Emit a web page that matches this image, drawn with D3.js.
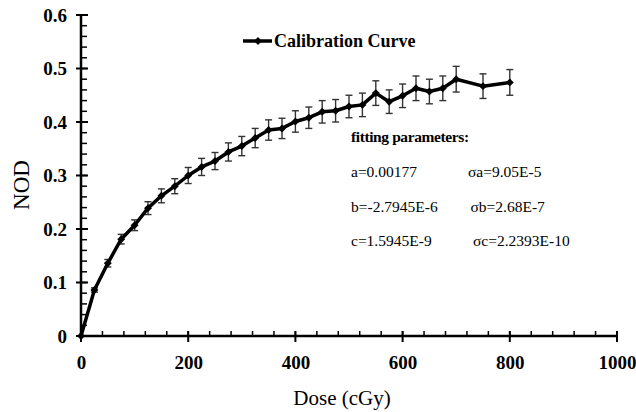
<!DOCTYPE html>
<html>
<head>
<meta charset="utf-8">
<script src="https://cdn.jsdelivr.net/npm/d3@7"></script>
<style>
body { margin: 0; background: #fff; }
svg { display: block; }
text { font-family: "Liberation Serif", "Times New Roman", serif; fill: #000; }
</style>
</head>
<body>
<svg id="chart" width="636" height="412"></svg>
<script>
// calibration data
var doses = [0, 25, 50, 75, 100, 125, 150, 175, 200, 225, 250, 275, 300, 325, 350, 375, 400,
	425, 450, 475, 500, 525, 550, 575, 600, 625, 650, 675, 700, 750, 800];
var nod = [0, 0.086, 0.136, 0.181, 0.207, 0.239, 0.262, 0.280, 0.300, 0.316, 0.327, 0.344, 0.355,
	0.370, 0.385, 0.388, 0.401, 0.408, 0.419, 0.421, 0.429, 0.432, 0.454, 0.438, 0.449, 0.463,
	0.457, 0.463, 0.480, 0.467, 0.474];
var nodErr = [0, 0.004, 0.007, 0.009, 0.010, 0.012, 0.013, 0.014, 0.015, 0.016, 0.016, 0.017, 0.018,
	0.018, 0.019, 0.019, 0.020, 0.020, 0.021, 0.021, 0.021, 0.022, 0.023, 0.022, 0.022, 0.023,
	0.023, 0.023, 0.024, 0.023, 0.024];

var xTicks = [0, 200, 400, 600, 800, 1000];
var xMinor = d3.range(0, 1001, 40);
var yTicks = [0, 0.1, 0.2, 0.3, 0.4, 0.5, 0.6];
var yMinor = d3.range(0, 0.6001, 0.02);

var seriesName = "Calibration Curve";
var paramTitle = "fitting parameters:";
var paramLeft = ["a=0.00177", "b=-2.7945E-6", "c=1.5945E-9"];
var paramRight = ["\u03C3a=9.05E-5", "\u03C3b=2.68E-7", "\u03C3c=2.2393E-10"];

var svg = d3.select("#chart");

var x = d3.scaleLinear().domain([0, 1000]).range([81, 617]);
var y = d3.scaleLinear().domain([0, 0.6]).range([336, 15]);

var data = doses.map((d, i) => ({ dose: d, v: nod[i], e: nodErr[i] }));

// axes (labels only, ticks drawn by hand below)
var xAxis = svg.append("g")
	.attr("transform", "translate(0,336)")
	.call(d3.axisBottom(x).tickValues(xTicks).tickSize(0).tickPadding(20).tickFormat(d3.format("d")));
xAxis.select(".domain").remove();
xAxis.attr("font-family", null).attr("font-size", null);
xAxis.selectAll("text")
	.style("font-family", "Liberation Serif").style("font-size", "19px").style("font-weight", "bold");

var yAxis = svg.append("g")
	.attr("transform", "translate(81,0)")
	.call(d3.axisLeft(y).tickValues(yTicks).tickSize(0).tickPadding(14).tickFormat(d => d === 0 ? "0" : d3.format(".1f")(d)));
yAxis.select(".domain").remove();
yAxis.attr("font-family", null).attr("font-size", null);
yAxis.selectAll("text")
	.style("font-family", "Liberation Serif").style("font-size", "19px").style("font-weight", "bold");

var ax = svg.append("g").attr("stroke", "#000");

// minor ticks
ax.selectAll(".xm").data(xMinor).enter().append("line")
	.attr("x1", d => x(d)).attr("x2", d => x(d))
	.attr("y1", 336).attr("y2", 331).attr("stroke-width", 1.5);
ax.selectAll(".ym").data(yMinor).enter().append("line")
	.attr("y1", d => y(d)).attr("y2", d => y(d))
	.attr("x1", 81).attr("x2", 87).attr("stroke-width", 1.5);

// major ticks cross the axis
ax.selectAll(".xM").data(xTicks).enter().append("line")
	.attr("x1", d => x(d)).attr("x2", d => x(d))
	.attr("y1", 331).attr("y2", 342).attr("stroke-width", 2);
ax.selectAll(".yM").data(yTicks).enter().append("line")
	.attr("y1", d => y(d)).attr("y2", d => y(d))
	.attr("x1", 76).attr("x2", 88).attr("stroke-width", 2);

// axis lines
ax.append("line").attr("x1", x(0)).attr("x2", x(1000)).attr("y1", 336).attr("y2", 336).attr("stroke-width", 2.5);
ax.append("line").attr("x1", 81).attr("x2", 81).attr("y1", y(0.6)).attr("y2", y(0)).attr("stroke-width", 2.5);

// error bars
var eb = svg.append("g").attr("stroke", "#333").attr("stroke-width", 1.4);
eb.selectAll(".ev").data(data.filter(d => d.e > 0)).enter().append("line")
	.attr("x1", d => x(d.dose)).attr("x2", d => x(d.dose))
	.attr("y1", d => y(d.v - d.e)).attr("y2", d => y(d.v + d.e));
eb.selectAll(".ct").data(data.filter(d => d.e > 0)).enter().append("line")
	.attr("x1", d => x(d.dose) - 3.5).attr("x2", d => x(d.dose) + 3.5)
	.attr("y1", d => y(d.v + d.e)).attr("y2", d => y(d.v + d.e));
eb.selectAll(".cb").data(data.filter(d => d.e > 0)).enter().append("line")
	.attr("x1", d => x(d.dose) - 3.5).attr("x2", d => x(d.dose) + 3.5)
	.attr("y1", d => y(d.v - d.e)).attr("y2", d => y(d.v - d.e));

// the curve
var line = d3.line().x(d => x(d.dose)).y(d => y(d.v));
svg.append("path").datum(data)
	.attr("d", line)
	.attr("fill", "none").attr("stroke", "#000").attr("stroke-width", 3.5)
	.attr("stroke-linejoin", "round");

var diamond = d3.symbol().type(d3.symbolDiamond2).size(40);
svg.selectAll(".pt").data(data).enter().append("path")
	.attr("d", diamond)
	.attr("transform", d => `translate(${x(d.dose)},${y(d.v)})`)
	.attr("fill", "#000");

// legend
var lg = svg.append("g").attr("transform", "translate(243,41)");
lg.append("line").attr("x1", 0).attr("x2", 29).attr("stroke", "#000").attr("stroke-width", 3.5);
lg.append("path").attr("d", diamond).attr("transform", "translate(15,0)").attr("fill", "#000");
lg.append("text").attr("x", 31).attr("y", 6)
	.style("font-size", "18px").style("font-weight", "bold")
	.text(seriesName);

// fitting parameters
var ann = svg.append("g").style("font-size", "15.5px");
ann.append("text").attr("x", 351).attr("y", 142)
	.style("font-weight", "bold").style("letter-spacing", "-0.4px")
	.text(paramTitle);
ann.selectAll(".pl").data(paramLeft).enter().append("text")
	.attr("x", 351).attr("y", (d, i) => 177 + i * 34.5)
	.text(d => d);
ann.selectAll(".pr").data(paramRight).enter().append("text")
	.attr("x", (d, i) => 468 + i * 2.5).attr("y", (d, i) => 177 + i * 34.5)
	.text(d => d);

// axis titles
svg.append("text")
	.attr("transform", "translate(29,185) rotate(-90)")
	.attr("text-anchor", "middle")
	.style("font-size", "23px")
	.text("NOD");
svg.append("text")
	.attr("x", 342).attr("y", 405)
	.attr("text-anchor", "middle")
	.style("font-size", "21px")
	.text("Dose (cGy)");
</script>
</body>
</html>
